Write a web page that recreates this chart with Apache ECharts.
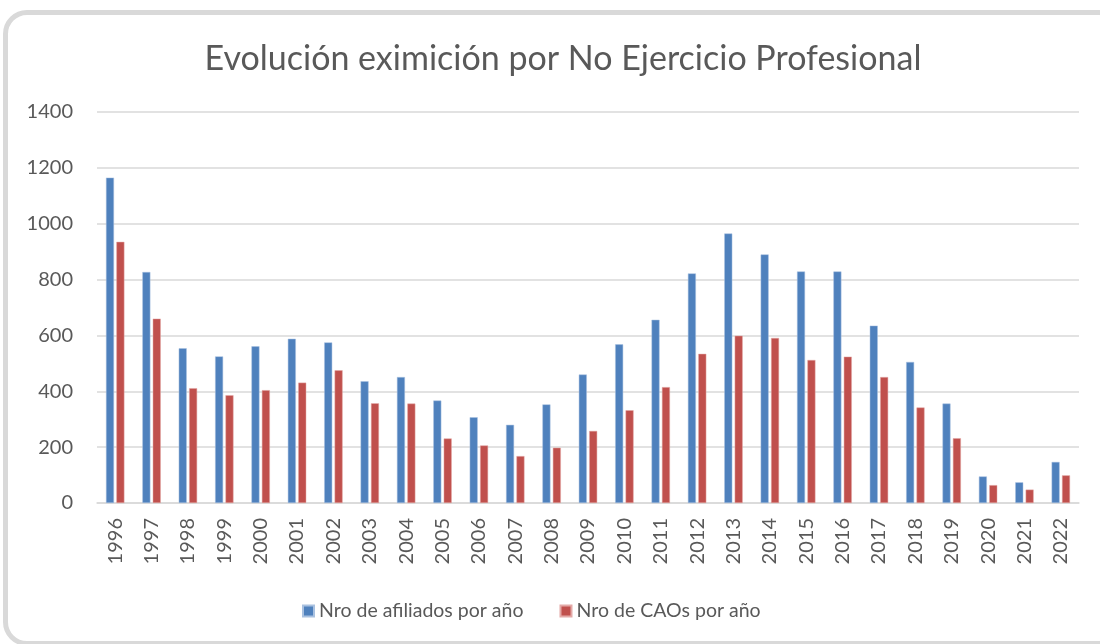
<!DOCTYPE html>
<html>
<head>
<meta charset="utf-8">
<script src="https://cdn.jsdelivr.net/npm/echarts@6/dist/echarts.min.js"></script>
<style>
html,body{margin:0;padding:0;background:#fff;width:1100px;height:644px;overflow:hidden;}
#frame{position:absolute;left:3px;top:10px;width:1110px;height:626px;border:5px solid #d9d9d9;border-radius:24px;box-sizing:content-box;}
#chart{position:absolute;left:0;top:0;width:1100px;height:644px;}
</style>
</head>
<body>
<div id="frame"></div>
<div id="chart"></div>
<script>
const years = ['1996','1997','1998','1999','2000','2001','2002','2003','2004','2005','2006','2007','2008','2009','2010','2011','2012','2013','2014','2015','2016','2017','2018','2019','2020','2021','2022'];
const afiliados = [1165,827,554,525,561,588,575,436,451,367,307,280,353,460,568,656,822,965,890,829,829,635,505,356,95,74,147];
const caos = [935,660,411,386,404,431,475,357,356,231,206,168,198,258,332,415,534,599,591,512,524,451,342,232,64,48,99];
const yTicks = {min:0, max:1400, interval:200};

const chart = echarts.init(document.getElementById('chart'), null, {renderer:'canvas'});
const font = 'Lato, "Open Sans", sans-serif';
chart.setOption({
  backgroundColor: 'transparent',
  animation: false,
  title: {
    text: 'Evolución eximición por No Ejercicio Profesional',
    left: 558, top: 37, textAlign: 'center',
    textStyle: {fontFamily: font, fontSize: 34, fontWeight: 'normal', color: '#595959'}
  },
  legend: {
    top: 596, left: 297,
    itemWidth: 11, itemHeight: 11, itemGap: 36,
    icon: 'rect',
    textStyle: {fontFamily: font, fontSize: 19.5, color: '#595959'},
    data: ['Nro de afiliados por año', 'Nro de CAOs por año']
  },
  grid: {left: 97, right: 21, top: 112, bottom: 141, containLabel: false},
  xAxis: {
    type: 'category', data: years,
    axisLine: {show: true, lineStyle: {color: '#d9d9d9', width: 1.5}},
    axisTick: {show: false},
    axisLabel: {rotate: 90, fontFamily: font, fontSize: 20, color: '#595959', margin: 15, interval: 0}
  },
  yAxis: {
    type: 'value', min: yTicks.min, max: yTicks.max, interval: yTicks.interval,
    axisLine: {show: false}, axisTick: {show: false},
    splitLine: {lineStyle: {color: '#d9d9d9', width: 1.5}},
    axisLabel: {fontFamily: font, fontSize: 20, color: '#595959', margin: 24, formatter: v => String(v)}
  },
  series: [
    {name: 'Nro de afiliados por año', type: 'bar', data: afiliados, barWidth: 8, barGap: '30%',
     itemStyle: {color: '#4F81BD', borderColor: '#a9c1e0', borderWidth: 0.5}},
    {name: 'Nro de CAOs por año', type: 'bar', data: caos, barWidth: 8,
     itemStyle: {color: '#C0504D', borderColor: '#e3a9a7', borderWidth: 0.5}}
  ]
});
</script>
</body>
</html>
